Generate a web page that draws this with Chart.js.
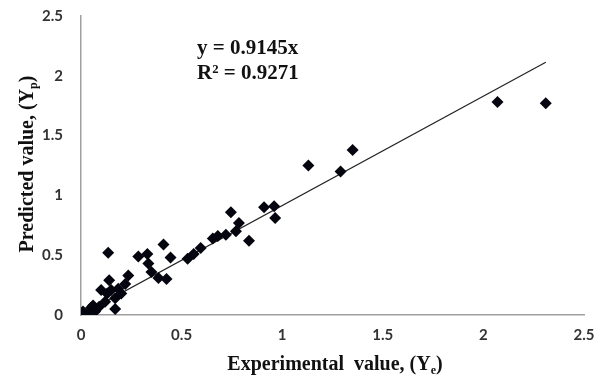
<!DOCTYPE html>
<html>
<head>
<meta charset="utf-8">
<script src="https://cdn.jsdelivr.net/npm/chart.js@4/dist/chart.umd.min.js"></script>
<style>
html,body{margin:0;padding:0;background:#fff;}
#wrap{width:609px;height:378px;position:relative;}
</style>
</head>
<body>
<div id="wrap"><canvas id="c" width="609" height="378"></canvas></div>
<script>
// Experimental values (x) and predicted values (y)
const expValues = [0.00,0.01,0.03,0.05,0.06,0.07,0.09,0.10,0.12,0.13,0.135,0.14,0.15,0.17,0.17,0.185,0.20,0.22,0.235,0.285,0.33,0.335,0.35,0.385,0.41,0.425,0.445,0.53,0.56,0.595,0.655,0.68,0.72,0.745,0.77,0.785,0.835,0.91,0.96,0.965,1.13,1.29,1.35,2.07,2.31];
const predValues = [0.01,0.03,0.00,0.06,0.08,0.03,0.07,0.21,0.11,0.18,0.52,0.29,0.21,0.14,0.05,0.22,0.18,0.26,0.33,0.49,0.51,0.43,0.36,0.31,0.59,0.30,0.48,0.47,0.51,0.56,0.64,0.66,0.67,0.86,0.70,0.77,0.62,0.90,0.91,0.81,1.25,1.20,1.38,1.78,1.77];
// Linear trendline (through origin) endpoints
const trendX = [0, 2.31];
const trendY = [0, 2.1125];
const tickValues = [0, 0.5, 1, 1.5, 2, 2.5];
const equationLines = ['y = 0.9145x', 'R\u00B2 = 0.9271'];
const xTitle = ['Experimental  value, (Y', 'e', ')'];
const yTitle = ['Predicted value, (Y', 'p', ')'];

const points = expValues.map((x, i) => ({x: x, y: predValues[i]}));
const trend = trendX.map((x, i) => ({x: x, y: trendY[i]}));

function drawSub(ctx, parts, font, subFont) {
  ctx.font = font;
  const w0 = ctx.measureText(parts[0]).width;
  ctx.font = subFont;
  const w1 = ctx.measureText(parts[1]).width;
  ctx.font = font;
  const w2 = ctx.measureText(parts[2]).width;
  const total = w0 + w1 + w2;
  let x = -total / 2;
  ctx.textAlign = 'left';
  ctx.textBaseline = 'alphabetic';
  ctx.font = font; ctx.fillText(parts[0], x, 0); x += w0;
  ctx.font = subFont; ctx.fillText(parts[1], x, 4); x += w1;
  ctx.font = font; ctx.fillText(parts[2], x, 0);
}

const textPlugin = {
  id: 'texts',
  afterDraw(chart) {
    const ctx = chart.ctx;
    ctx.save();
    ctx.fillStyle = '#111';
    const font = 'bold 20px "Liberation Serif", "Times New Roman", serif';
    const subFont = 'bold 12px "Liberation Serif", "Times New Roman", serif';
    const eqFont = 'bold 21px "Liberation Serif", "Times New Roman", serif';
    // x title
    ctx.save();
    ctx.translate(335, 370);
    drawSub(ctx, xTitle, font, subFont);
    ctx.restore();
    // y title
    ctx.save();
    ctx.translate(33, 164);
    ctx.rotate(-Math.PI / 2);
    drawSub(ctx, yTitle, font, subFont);
    ctx.restore();
    // equation
    ctx.font = eqFont;
    ctx.textAlign = 'left';
    ctx.textBaseline = 'alphabetic';
    ctx.fillText(equationLines[0], 197, 54);
    ctx.fillText(equationLines[1], 197, 79);
    ctx.restore();
  }
};

new Chart(document.getElementById('c'), {
  type: 'scatter',
  data: {
    datasets: [
      {
        label: 'Data',
        data: points,
        pointStyle: 'rectRot',
        pointRadius: 6,
        pointHoverRadius: 6,
        backgroundColor: '#050510',
        borderColor: '#050510',
        borderWidth: 0,
        order: 1
      },
      {
        label: 'Trend',
        type: 'line',
        data: trend,
        borderColor: '#222',
        borderWidth: 1.2,
        pointRadius: 0,
        fill: false,
        order: 2
      }
    ]
  },
  options: {
    responsive: false,
    animation: false,
    events: [],
    layout: { padding: { left: 0, right: 25, top: 16, bottom: 0 } },
    plugins: { legend: { display: false }, tooltip: { enabled: false } },
    scales: {
      x: {
        type: 'linear',
        min: 0, max: 2.5,
        afterBuildTicks(scale) { scale.ticks = tickValues.map(v => ({value: v})); },
        afterFit(scale) { scale.height = 63; scale.paddingLeft = 0; scale.paddingRight = 0; },
        grid: { display: false, drawTicks: false },
        border: { display: true, color: '#a0a0a0', width: 1.5 },
        ticks: {
          padding: 11,
          color: '#333',
          font: { family: 'Lato, "Liberation Sans", sans-serif', size: 15, weight: 'bold' },
          callback: v => String(v)
        }
      },
      y: {
        type: 'linear',
        min: 0, max: 2.5,
        afterBuildTicks(scale) { scale.ticks = tickValues.map(v => ({value: v})); },
        afterFit(scale) { scale.width = 81; scale.paddingTop = 0; scale.paddingBottom = 0; },
        grid: { display: false, drawTicks: false },
        border: { display: true, color: '#a0a0a0', width: 1.5 },
        ticks: {
          padding: 18,
          color: '#333',
          font: { family: 'Lato, "Liberation Sans", sans-serif', size: 15, weight: 'bold' },
          callback: v => String(v)
        }
      }
    }
  },
  plugins: [textPlugin]
});
</script>
</body>
</html>
